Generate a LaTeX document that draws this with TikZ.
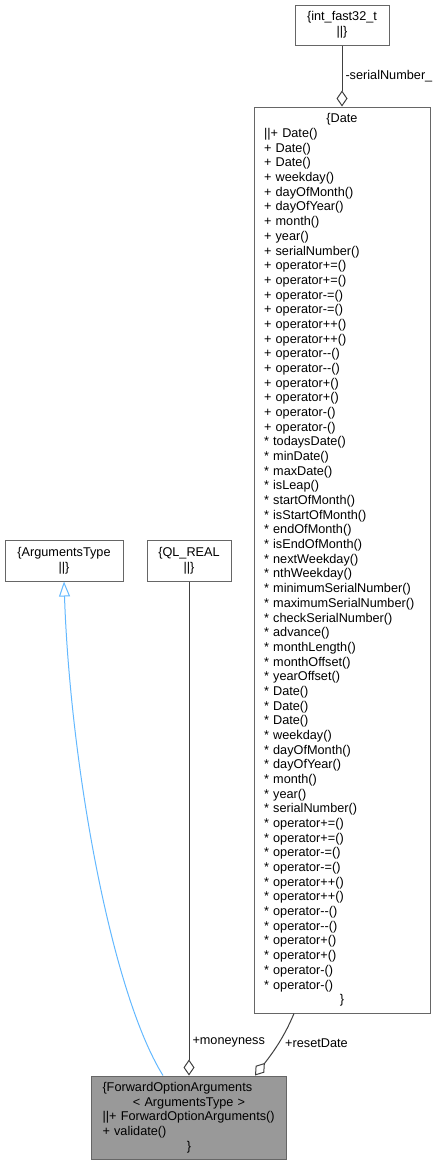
\documentclass[tikz,border=0pt]{standalone}
\usepackage{fontspec}
\setmainfont{Liberation Sans}
\usetikzlibrary{arrows.meta, positioning, calc}
\definecolor{edgegray}{HTML}{404040}
\definecolor{boxgray}{HTML}{666666}
\definecolor{inhblue}{HTML}{63B8FF}
\definecolor{hlfill}{HTML}{999999}
\newcommand{\umlsize}{\fontsize{12.7pt}{14.68pt}\selectfont}
\newcommand{\midline}[1]{\makebox[\linewidth][c]{#1}}

\begin{document}
\begin{tikzpicture}[x=1pt, y=-1pt,
  umlbox/.style={draw=boxgray, line width=1pt, fill=white, inner xsep=10pt,
    inner ysep=0pt, align=left, font=\umlsize, text=black},
  aggr/.style={-{Diamond[open, length=16pt, width=11pt]}, line width=1pt, edgegray},
  inh/.style={-{Triangle[open, length=15pt, width=11pt]}, line width=1pt, inhblue},
  lbl/.style={font=\umlsize, text=black, inner sep=3pt},
]

% Canvas
\useasboundingbox (0,0) rectangle (440,1165);

% =============================================
% Classes
% =============================================

% int_fast32_t
\node[umlbox, minimum width=94pt, minimum height=40pt, text width=74pt] (intfast) at (342,25)
  {\midline{\{int\_fast32\_t}\\
   \midline{||\}}};

% Date
\node[umlbox, minimum width=176pt, minimum height=906pt, text width=156pt] (date) at (342,560)
  {\midline{\{Date}\\
   ||+ Date()\\
   + Date()\\
   + Date()\\
   + weekday()\\
   + dayOfMonth()\\
   + dayOfYear()\\
   + month()\\
   + year()\\
   + serialNumber()\\
   + operator+=()\\
   + operator+=()\\
   + operator-=()\\
   + operator-=()\\
   + operator++()\\
   + operator++()\\
   + operator-{}-()\\
   + operator-{}-()\\
   + operator+()\\
   + operator+()\\
   + operator-()\\
   + operator-()\\
   {*} todaysDate()\\
   {*} minDate()\\
   {*} maxDate()\\
   {*} isLeap()\\
   {*} startOfMonth()\\
   {*} isStartOfMonth()\\
   {*} endOfMonth()\\
   {*} isEndOfMonth()\\
   {*} nextWeekday()\\
   {*} nthWeekday()\\
   {*} minimumSerialNumber()\\
   {*} maximumSerialNumber()\\
   {*} checkSerialNumber()\\
   {*} advance()\\
   {*} monthLength()\\
   {*} monthOffset()\\
   {*} yearOffset()\\
   {*} Date()\\
   {*} Date()\\
   {*} Date()\\
   {*} weekday()\\
   {*} dayOfMonth()\\
   {*} dayOfYear()\\
   {*} month()\\
   {*} year()\\
   {*} serialNumber()\\
   {*} operator+=()\\
   {*} operator+=()\\
   {*} operator-=()\\
   {*} operator-=()\\
   {*} operator++()\\
   {*} operator++()\\
   {*} operator-{}-()\\
   {*} operator-{}-()\\
   {*} operator+()\\
   {*} operator+()\\
   {*} operator-()\\
   {*} operator-()\\
   \midline{\}}};

% ArgumentsType
\node[umlbox, minimum width=118pt, minimum height=41pt, text width=98pt] (argtype) at (64,560.5)
  {\midline{\{ArgumentsType}\\
   \midline{||\}}};

% QL_REAL
\node[umlbox, minimum width=84pt, minimum height=41pt, text width=64pt] (qlreal) at (189,560.5)
  {\midline{\{QL\_REAL}\\
   \midline{||\}}};

% ForwardOptionArguments (highlighted)
\node[umlbox, fill=hlfill, inner xsep=11pt, minimum width=195pt, minimum height=83pt,
  text width=173pt] (fwdopt) at (189,1117.5)
  {\{ForwardOptionArguments\\
   \midline{< ArgumentsType >}\\
   ||+ ForwardOptionArguments()\\
   + validate()\\
   \midline{\}}};

% =============================================
% Relations
% =============================================

% Inheritance
\draw[inh] ([xshift=-26pt]fwdopt.north) .. controls (110,990) and (70,760) .. (argtype.south);

% Members
\draw[aggr] (intfast.south) -- node[lbl, right] (lblserial) {-serialNumber\_} (date.north);
\draw[aggr] (qlreal.south) -- node[lbl, right, pos=0.933] (lblmoney) {+moneyness} (fwdopt.north);
\draw[aggr] ([xshift=-48pt]date.south) .. controls (285,1035) and (275,1050) .. ([xshift=66pt]fwdopt.north);
\node[lbl, right] (lblreset) at (282,1043) {+resetDate};

\end{tikzpicture}
\end{document}
